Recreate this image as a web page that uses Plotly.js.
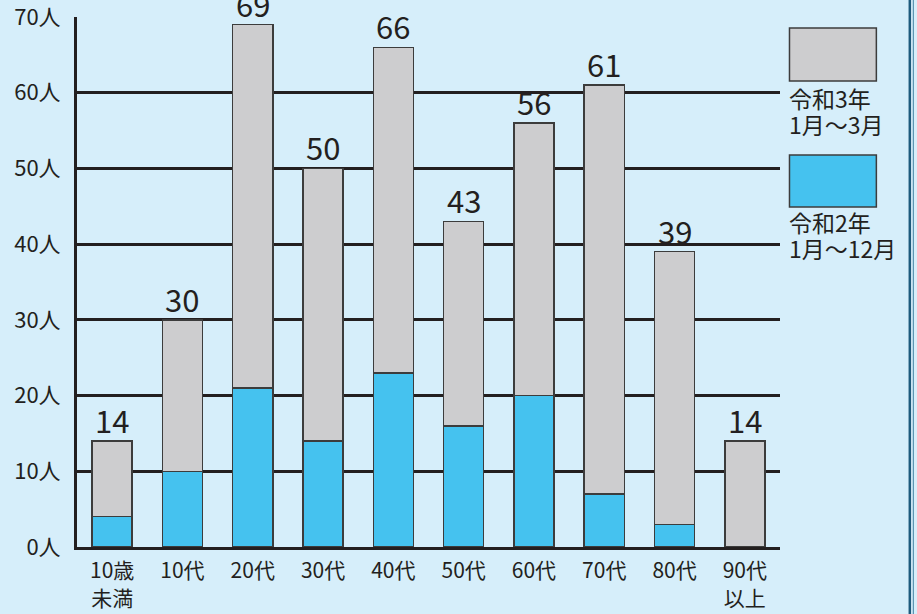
<!DOCTYPE html>
<html>
<head>
<meta charset="utf-8">
<script src="https://cdn.plot.ly/plotly-3.0.1.min.js"></script>
<style>
html,body{margin:0;padding:0;background:#d6eefa;}
#chart{width:917px;height:614px;}
</style>
</head>
<body>
<div id="chart"></div>
<script>
// Data
var categories = ['10歳<br>未満','10代','20代','30代','40代','50代','60代','70代','80代','90代<br>以上'];
var r2Values = [4, 10, 21, 14, 23, 16, 20, 7, 3, 0];      // 令和2年 1月〜12月 (blue)
var r3Values = [10, 20, 48, 36, 43, 27, 36, 54, 36, 14];  // 令和3年 1月〜3月 (gray)
var yTickVals = [0, 10, 20, 30, 40, 50, 60, 70];
var yTickSuffix = '人';
var legendR3 = ['令和3年', '1月〜3月'];
var legendR2 = ['令和2年', '1月〜12月'];

var totals = r2Values.map(function(v, i){ return v + r3Values[i]; });

var FONT = '"Noto Sans CJK JP", "Noto Sans", sans-serif';
var TXT = '#231f20';
var BG = '#d6eefa';
var BLUE = '#45c2ef';
var GRAY = '#cdcdcf';
var EDGE = '#3c3c3c';

var traceR2 = {
  type: 'bar', x: categories, y: r2Values, name: '令和2年 1月〜12月',
  marker: {color: BLUE, line: {color: EDGE, width: 1.5}},
  hoverinfo: 'skip', showlegend: false
};
var traceR3 = {
  type: 'bar', x: categories, y: r3Values, name: '令和3年 1月〜3月',
  marker: {color: GRAY, line: {color: EDGE, width: 1.5}},
  hoverinfo: 'skip', showlegend: false
};

// pixel -> paper helpers
var L = 76.5, R = 780.5, T = 17, B = 547;
function px(x){ return (x - L) / (R - L); }
function py(y){ return (B - y) / (B - T); }

var annotations = totals.map(function(t, i){
  return {x: categories[i], y: t, xref: 'x', yref: 'y', xanchor: 'center', yanchor: 'bottom',
    yshift: -3, showarrow: false, text: String(t),
    font: {family: FONT, size: 31, color: TXT}};
});
function legendText(lines, y1, y2){
  return [
    {xref: 'paper', yref: 'paper', x: px(788), y: py(y1), xanchor: 'left', yanchor: 'middle',
     showarrow: false, text: lines[0], font: {family: FONT, size: 23, color: TXT}},
    {xref: 'paper', yref: 'paper', x: px(788), y: py(y2), xanchor: 'left', yanchor: 'middle',
     showarrow: false, text: lines[1], font: {family: FONT, size: 23, color: TXT}}
  ];
}
annotations = annotations.concat(legendText(legendR3, 98, 124), legendText(legendR2, 222, 248));

var layout = {
  width: 917, height: 614,
  margin: {l: L, r: 917 - R, t: T, b: 614 - B, pad: 0},
  paper_bgcolor: BG, plot_bgcolor: BG,
  barmode: 'stack', bargap: 0.43,
  font: {family: FONT, color: TXT},
  showlegend: false,
  xaxis: {
    type: 'category', range: [-0.5, 9.5], fixedrange: true,
    showgrid: false, zeroline: false,
    showline: true, linecolor: TXT, linewidth: 3,
    ticks: '', ticklabelstandoff: 3,
    tickfont: {family: FONT, size: 21, color: TXT}
  },
  yaxis: {
    range: [yTickVals[0], yTickVals[yTickVals.length - 1]], fixedrange: true,
    tickmode: 'linear', tick0: yTickVals[0], dtick: yTickVals[1] - yTickVals[0],
    ticksuffix: yTickSuffix, ticklabeloverflow: 'allow',
    showgrid: true, gridcolor: TXT, gridwidth: 3,
    zeroline: false,
    showline: true, linecolor: TXT, linewidth: 3,
    ticks: '', ticklabelstandoff: 9,
    tickfont: {family: FONT, size: 22, color: TXT}
  },
  shapes: [
    {type: 'rect', xref: 'paper', yref: 'paper', x0: px(790), x1: px(877), y0: py(81), y1: py(28),
     fillcolor: GRAY, line: {color: EDGE, width: 1.5}},
    {type: 'rect', xref: 'paper', yref: 'paper', x0: px(790), x1: px(877), y0: py(207), y1: py(155),
     fillcolor: BLUE, line: {color: EDGE, width: 1.5}},
    {type: 'line', xref: 'paper', yref: 'paper', x0: px(910.5), x1: px(910.5), y0: py(620), y1: py(-10),
     line: {color: '#1d5a7c', width: 2.5}},
    {type: 'line', xref: 'paper', yref: 'paper', x0: px(914), x1: px(914), y0: py(620), y1: py(-10),
     line: {color: '#3f7fa0', width: 1}}
  ],
  annotations: annotations
};

Plotly.newPlot('chart', [traceR2, traceR3], layout, {displayModeBar: false, staticPlot: true});
</script>
</body>
</html>
